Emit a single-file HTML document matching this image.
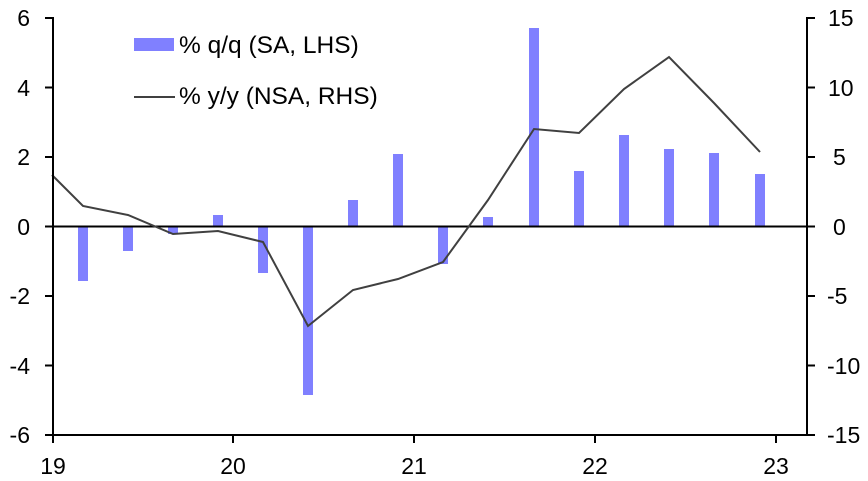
<!DOCTYPE html>
<html><head><style>body{margin:0;background:#fff}svg{display:block}text{font-family:"Liberation Sans",Arial,sans-serif;font-size:23px;fill:#000}</style></head><body>
<svg width="868" height="481" viewBox="0 0 868 481">
<g fill="#8080FF">
<rect x="78" y="226" width="10" height="55"/>
<rect x="123" y="226" width="10" height="25"/>
<rect x="168" y="226" width="10" height="8"/>
<rect x="213" y="215" width="10" height="11"/>
<rect x="258" y="226" width="10" height="47"/>
<rect x="303" y="226" width="10" height="169"/>
<rect x="348" y="200" width="10" height="26"/>
<rect x="393" y="154" width="10" height="72"/>
<rect x="438" y="226" width="10" height="38"/>
<rect x="483" y="217" width="10" height="9"/>
<rect x="529" y="28" width="10" height="198"/>
<rect x="574" y="171" width="10" height="55"/>
<rect x="619" y="135" width="10" height="91"/>
<rect x="664" y="149" width="10" height="77"/>
<rect x="709" y="153" width="10" height="73"/>
<rect x="755" y="174" width="10" height="52"/>
</g>
<line x1="53" y1="226.5" x2="807" y2="226.5" stroke="#000" stroke-width="2"/>
<polyline fill="none" stroke="#404040" stroke-width="2" points="52,175 83,206 128,215 173,234 218,231 263,242 308,326 353,290 398,279 443,262 488,200 534,129 579,133 624,89 669,57 714,103 760,152"/>
<g stroke="#000" stroke-width="2">
<line x1="53" y1="17" x2="53" y2="436"/>
<line x1="53" y1="435" x2="807" y2="435"/>
<line x1="807" y1="17" x2="807" y2="436"/>
<line x1="45" y1="18" x2="53" y2="18"/><line x1="45" y1="87.5" x2="53" y2="87.5"/><line x1="45" y1="157" x2="53" y2="157"/><line x1="45" y1="226.5" x2="53" y2="226.5"/><line x1="45" y1="296" x2="53" y2="296"/><line x1="45" y1="365.5" x2="53" y2="365.5"/><line x1="45" y1="435" x2="53" y2="435"/>
<line x1="807" y1="18" x2="815" y2="18"/><line x1="807" y1="87.5" x2="815" y2="87.5"/><line x1="807" y1="157" x2="815" y2="157"/><line x1="807" y1="226.5" x2="815" y2="226.5"/><line x1="807" y1="296" x2="815" y2="296"/><line x1="807" y1="365.5" x2="815" y2="365.5"/><line x1="807" y1="435" x2="815" y2="435"/>
<line x1="53" y1="435" x2="53" y2="443"/><line x1="233" y1="435" x2="233" y2="443"/><line x1="414" y1="435" x2="414" y2="443"/><line x1="595" y1="435" x2="595" y2="443"/><line x1="776" y1="435" x2="776" y2="443"/>
</g>
<g text-anchor="end">
<text x="30" y="26">6</text><text x="30" y="96">4</text><text x="30" y="165">2</text><text x="30" y="235">0</text><text x="30" y="304">-2</text><text x="30" y="374">-4</text><text x="30" y="443">-6</text>
</g>
<g text-anchor="start">
<text x="828" y="26">15</text><text x="828" y="96">10</text><text x="833" y="165">5</text><text x="833" y="235">0</text><text x="827" y="304">-5</text><text x="827" y="374">-10</text><text x="827" y="443">-15</text>
</g>
<g text-anchor="middle">
<text x="53" y="474">19</text><text x="233" y="474">20</text><text x="414" y="474">21</text><text x="595" y="474">22</text><text x="776" y="474">23</text>
</g>
<rect x="134" y="38" width="40" height="13" fill="#8080FF"/>
<text x="179" y="53" style="font-size:24.5px">% q/q (SA, LHS)</text>
<line x1="134" y1="97" x2="175" y2="97" stroke="#404040" stroke-width="2"/>
<text x="179" y="104" style="font-size:24.5px">% y/y (NSA, RHS)</text>
</svg>
</body></html>
